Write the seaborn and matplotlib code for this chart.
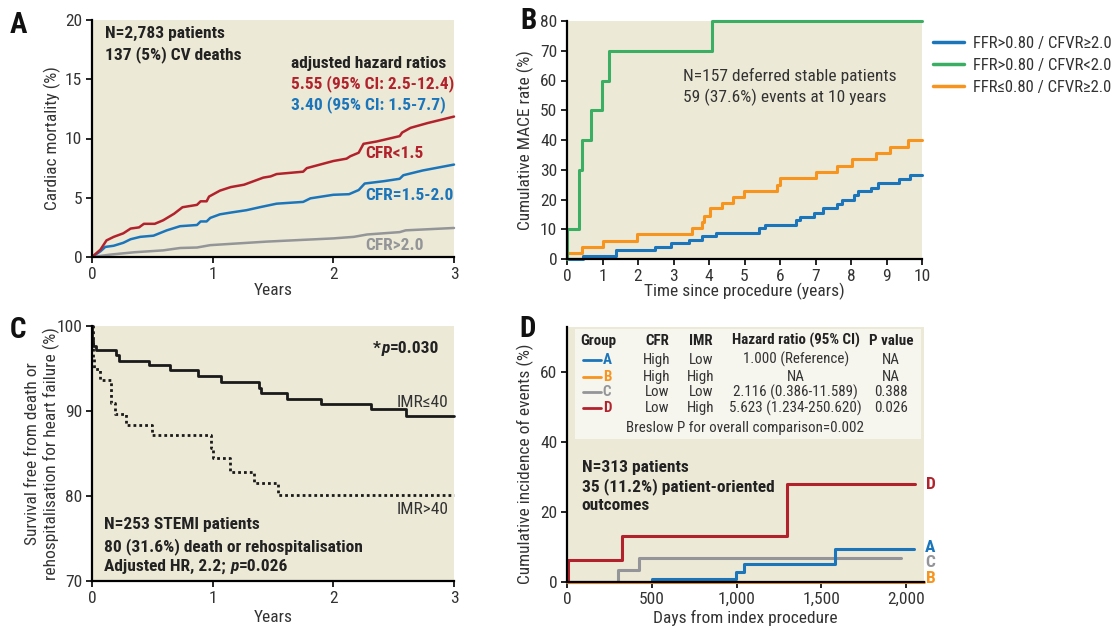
import numpy as np
import pandas as pd
import matplotlib
matplotlib.use("Agg")
import matplotlib.pyplot as plt
from matplotlib.lines import Line2D
from matplotlib.patches import Rectangle
from matplotlib import font_manager as fm
import seaborn as sns

# ---------------- data ----------------
# Panel A: cardiac mortality (%) vs years
A_LOW_X = [0, 0.07, 0.12, 0.18, 0.26, 0.32, 0.39, 0.43, 0.52, 0.59, 0.68, 0.75, 0.87, 0.90, 0.95, 0.97,
           1.06, 1.15, 1.26, 1.34, 1.42, 1.48, 1.53, 1.75, 1.78, 1.89, 2.0, 2.11, 2.14, 2.21, 2.25, 2.36,
           2.55, 2.57, 2.64, 2.78, 3.0]
A_LOW_Y = [0, 0.62, 1.4, 1.7, 2.0, 2.4, 2.5, 2.8, 2.8, 3.1, 3.65, 4.2, 4.4, 4.7, 4.7, 5.1,
           5.6, 5.9, 6.1, 6.4, 6.7, 6.8, 7.0, 7.2, 7.5, 7.8, 8.1, 8.3, 8.5, 8.8, 9.55, 9.75,
           10.2, 10.5, 10.9, 11.3, 11.85]
A_MID_X = [0, 0.07, 0.11, 0.18, 0.26, 0.32, 0.40, 0.51, 0.62, 0.73, 0.87, 0.90, 0.95, 0.98, 1.06,
           1.15, 1.28, 1.39, 1.53, 1.75, 1.81, 2.0, 2.13, 2.21, 2.26, 2.42, 2.55, 2.58, 2.74, 3.0]
A_MID_Y = [0, 0.48, 0.85, 0.95, 1.2, 1.5, 1.7, 1.8, 2.25, 2.6, 2.7, 3.0, 3.0, 3.3, 3.6,
           3.75, 3.95, 4.2, 4.5, 4.65, 4.95, 5.25, 5.3, 5.65, 6.2, 6.4, 6.6, 6.9, 7.3, 7.8]
A_HIGH_X = [0, 0.15, 0.35, 0.59, 0.73, 0.87, 0.98, 1.45, 2.0, 2.17, 2.28, 2.55, 2.6, 3.0]
A_HIGH_Y = [0, 0.2, 0.4, 0.56, 0.76, 0.8, 1.0, 1.3, 1.57, 1.7, 1.9, 2.1, 2.25, 2.45]
A_LABELS = ["CFR<1.5", "CFR=1.5-2.0", "CFR>2.0"]

# Panel B: cumulative MACE (%) vs years
B_BLUE_X = [0, 0.44, 1.38, 2.47, 2.94, 3.45, 3.80, 4.2, 5.4, 5.58, 6.45, 6.55, 6.96, 7.2, 7.6, 7.75,
            8.08, 8.2, 8.55, 8.75, 9.35, 9.65, 10]
B_BLUE_Y = [0, 1, 2.9, 4, 5.3, 6.4, 7.6, 8.9, 10.4, 11.5, 13.0, 14.2, 15.6, 17, 18.5, 19.8,
            21.5, 23, 23.9, 25.4, 26.9, 28.3, 28.3]
B_GREEN_X = [0, 0, 0.34, 0.42, 0.69, 0.98, 1.19, 4.09, 10]
B_GREEN_Y = [0, 10, 30, 40, 50, 60, 70, 80, 80]
B_ORANGE_X = [0, 0, 0.43, 1.02, 1.98, 3.52, 3.80, 3.87, 4.04, 4.38, 4.69, 4.99, 5.92, 6.0, 7.01, 7.6,
              8.03, 8.70, 9.1, 9.6, 10]
B_ORANGE_Y = [0, 2, 4, 6.2, 8.5, 10.5, 12.5, 14.5, 17, 18.8, 21, 22.8, 25, 27.1, 29.3, 31.4,
              33.5, 35.6, 37.6, 40, 40]
B_LABELS = ["FFR>0.80 / CFVR\u22652.0", "FFR>0.80 / CFVR<2.0", "FFR\u22640.80 / CFVR\u22652.0"]

# Panel C: survival free from death or HF rehospitalisation (%)
C_LOW_X = [0, 0.003, 0.01, 0.03, 0.2, 0.22, 0.47, 0.65, 0.88, 1.07, 1.385, 1.40, 1.62, 1.9, 2.31, 2.6, 3.0]
C_LOW_Y = [100, 98.3, 97.7, 97.2, 96.55, 95.85, 95.4, 94.8, 94.1, 93.4, 92.75, 92.1, 91.4, 90.85, 90.2, 89.4, 89.4]
C_HIGH_X = [0, 0.005, 0.02, 0.07, 0.16, 0.19, 0.28, 0.5, 0.99, 1.0, 1.14, 1.34, 1.54, 3.0]
C_HIGH_Y = [100, 96.2, 95.0, 93.7, 91.0, 89.7, 88.4, 87.2, 85.7, 84.5, 82.8, 81.5, 80.15, 80.15]
C_LABELS = ["IMR\u226440", "IMR>40"]

# Panel D: cumulative incidence (%) vs days
D_A_X = [0, 504, 999, 1045, 1583, 2046]
D_A_Y = [0, 0.9, 2.9, 5.2, 9.4, 9.4]
D_B_X = [0, 2106]
D_B_Y = [0, 0]
D_C_X = [0, 300, 424, 1973]
D_C_Y = [0, 3.5, 6.9, 6.9]
D_D_X = [0, 7, 323, 1299, 2053]
D_D_Y = [0, 6.3, 13.3, 28.0, 28.0]
D_GROUPS = ["A", "B", "C", "D"]
D_CFR = ["High", "High", "Low", "Low"]
D_IMR = ["Low", "High", "Low", "High"]
D_HR = ["1.000 (Reference)", "NA", "2.116 (0.386-11.589)", "5.623 (1.234-250.620)"]
D_P = ["NA", "NA", "0.388", "0.026"]
D_XTICKS = [0, 500, 1000, 1500, 2000]
D_XTICKLABELS = ["0", "500", "1,000", "1,500", "2,000"]

# ---------------- style ----------------
sns.set_theme(style="ticks")
names = {f.name for f in fm.fontManager.ttflist}
FONT = None
for cand in ["Liberation Sans Narrow", "Roboto Condensed", "Open Sans Condensed", "Noto Sans Condensed"]:
    if cand in names:
        FONT = cand
        break
if FONT is None:
    FONT = "DejaVu Sans"
    plt.rcParams["font.stretch"] = "condensed"
plt.rcParams["font.family"] = [FONT, "DejaVu Sans"]

BG = "#ECE9D6"
RED = "#B2222C"
BLUE = "#1B75BB"
GRAY = "#939598"
GREEN = "#3AAE62"
ORANGE = "#F7941D"
TXT = "#333333"
FS = 12.5

fig = plt.figure(figsize=(11.18, 6.28), dpi=100)
W, H = 1118.0, 628.0


def add_ax(l, t, r, b):
    return fig.add_axes([l / W, 1 - b / H, (r - l) / W, (b - t) / H])


axA = add_ax(92, 20, 454, 257)
axB = add_ax(567, 21, 922, 259)
axC = add_ax(92, 326, 454, 581)
axD = add_ax(567, 327, 924, 582)

for ax in (axA, axB, axC, axD):
    ax.set_facecolor(BG)
    for s in ("top", "right"):
        ax.spines[s].set_visible(False)
    for s in ("left", "bottom"):
        ax.spines[s].set_color("black")
        ax.spines[s].set_linewidth(1.6)
    ax.tick_params(direction="out", length=4.5, width=1.2, color="black",
                   labelcolor=TXT, labelsize=FS, pad=2.5)
    ax.grid(False)


def style_labels(ax, xl, yl, xpos, ypos, yy=0.5):
    ax.set_xlabel(xl, fontsize=FS, color=TXT)
    ax.set_ylabel(yl, fontsize=FS, color=TXT)
    ax.xaxis.set_label_coords(0.5, xpos)
    ax.yaxis.set_label_coords(ypos, yy)
    ax.xaxis.label.set_va("center")
    ax.yaxis.label.set_va("center")


def line(ax, x, y, color, lw=2.0, step=False, **kw):
    extra = {"drawstyle": "steps-post"} if step else {}
    sns.lineplot(x=x, y=y, ax=ax, color=color, lw=lw, estimator=None, sort=False,
                 legend=False, clip_on=False, **extra, **kw)


def chain(ax, x, y, parts, fontsize=FS, color="#222222"):
    t = ax.text(x, y, parts[0][0], fontsize=fontsize, color=color, ha="left", va="center", **parts[0][1])
    for s, st in parts[1:]:
        t = ax.annotate(s, xy=(1, 0), xycoords=t, xytext=(0.3, 0), textcoords="offset points",
                        fontsize=fontsize, color=color, ha="left", va="bottom", **st)
    return t

# ---------------- Panel A ----------------
line(axA, A_HIGH_X, A_HIGH_Y, GRAY, lw=1.8)
line(axA, A_MID_X, A_MID_Y, BLUE, lw=1.8)
line(axA, A_LOW_X, A_LOW_Y, RED, lw=1.8)
axA.set_xlim(0, 3)
axA.set_ylim(0, 20)
axA.set_xticks([0, 1, 2, 3])
axA.set_yticks([0, 5, 10, 15, 20])
style_labels(axA, "Years", "Cardiac mortality (%)", -0.143, -0.11)
bold = dict(fontweight="bold")
axA.text(0.108, 18.88, "N=2,783 patients", fontsize=FS, color="#222222", va="center", **bold)
axA.text(0.108, 17.1, "137 (5%) CV deaths", fontsize=FS, color="#222222", va="center", **bold)
axA.text(1.65, 16.35, "adjusted hazard ratios", fontsize=FS, color="#222222", va="center", **bold)
axA.text(1.65, 14.66, "5.55 (95% CI: 2.5-12.4)", fontsize=FS, color=RED, va="center", **bold)
axA.text(1.65, 12.9, "3.40 (95% CI: 1.5-7.7)", fontsize=FS, color=BLUE, va="center", **bold)
axA.text(2.268, 8.75, A_LABELS[0], fontsize=FS, color=RED, va="center", **bold)
axA.text(2.268, 5.15, A_LABELS[1], fontsize=FS, color=BLUE, va="center", **bold)
axA.text(2.268, 0.95, A_LABELS[2], fontsize=FS, color=GRAY, va="center", **bold)

# ---------------- Panel B ----------------
line(axB, B_BLUE_X, B_BLUE_Y, BLUE, lw=2.2, step=True)
line(axB, B_ORANGE_X, B_ORANGE_Y, ORANGE, lw=2.2, step=True)
line(axB, B_GREEN_X, B_GREEN_Y, GREEN, lw=2.2, step=True)
axB.set_xlim(0, 10)
axB.set_ylim(0, 80)
axB.set_xticks(range(0, 11))
axB.set_yticks(range(0, 81, 10))
style_labels(axB, "Time since procedure (years)", "Cumulative MACE rate (%)", -0.137, -0.118)
axB.text(3.28, 61.4, "N=157 deferred stable patients", fontsize=FS, color=TXT, va="center")
axB.text(3.28, 54.2, "59 (37.6%) events at 10 years", fontsize=FS, color=TXT, va="center")
handles = [Line2D([], [], color=c, lw=2.5) for c in (BLUE, GREEN, ORANGE)]
leg = axB.legend(handles, B_LABELS, loc="upper left", bbox_to_anchor=(1.031, 0.937), frameon=False,
                 handlelength=1.85, handletextpad=0.55, labelspacing=0.42, fontsize=12,
                 borderpad=0, borderaxespad=0)
for t in leg.get_texts():
    t.set_color(TXT)

# ---------------- Panel C ----------------
line(axC, C_LOW_X, C_LOW_Y, "#1a1a1a", lw=2.0, step=True)
line(axC, C_HIGH_X, C_HIGH_Y, "#1a1a1a", lw=2.0, step=True, linestyle=(0, (1, 1.1)))
axC.set_xlim(0, 3)
axC.set_ylim(70, 100)
axC.set_xticks([0, 1, 2, 3])
axC.set_yticks([70, 80, 90, 100])
style_labels(axC, "Years", "Survival free from death or\nrehospitalisation for heart failure (%)",
             -0.145, -0.138)
axC.text(2.957, 91.0, C_LABELS[0], fontsize=FS, color=TXT, ha="right", va="center")
axC.text(2.957, 78.44, C_LABELS[1], fontsize=FS, color=TXT, ha="right", va="center")
chain(axC, 2.33, 97.4, [("*", bold), ("p", dict(fontweight="bold", fontstyle="italic")),
                        ("=0.030", bold)])
axC.text(0.1, 76.6, "N=253 STEMI patients", fontsize=FS, color="#222222", va="center", **bold)
axC.text(0.1, 74.1, "80 (31.6%) death or rehospitalisation", fontsize=FS, color="#222222",
         va="center", **bold)
chain(axC, 0.1, 71.7, [("Adjusted HR, 2.2; ", bold),
                       ("p", dict(fontweight="bold", fontstyle="italic")), ("=0.026", bold)])

# ---------------- Panel D ----------------
D_COLORS = [BLUE, ORANGE, GRAY, RED]
line(axD, D_D_X, D_D_Y, RED, lw=2.2, step=True)
line(axD, D_C_X, D_C_Y, GRAY, lw=2.2, step=True)
line(axD, D_A_X, D_A_Y, BLUE, lw=2.2, step=True)
line(axD, D_B_X, D_B_Y, ORANGE, lw=2.2, step=True)
axD.set_xlim(0, 2106)
axD.set_ylim(0, 73)
axD.set_xticks(D_XTICKS)
axD.set_xticklabels(D_XTICKLABELS)
axD.set_yticks([0, 20, 40, 60])
style_labels(axD, "Days from index procedure", "Cumulative incidence of events (%)", -0.141, -0.118,
             yy=0.465)
end_y = {"D": 27.9, "A": 10.0, "C": 5.7, "B": 0.9}
for g, c in zip(D_GROUPS, D_COLORS):
    axD.text(2144, end_y[g], g, fontsize=FS, color=c, ha="center", va="center", clip_on=False, **bold)

axD.add_patch(Rectangle((47, 40.8), 2041, 31.7, facecolor="#F6F5EE", edgecolor="none", zorder=1))
TFS = 10.8
hy = 69.0
row_y = [63.6, 58.8, 54.3, 49.8]
axD.text(80, hy, "Group", fontsize=TFS, color="#222222", ha="left", va="center", **bold)
for xx, lab in zip([530, 790, 1350, 1910], ["CFR", "IMR", "Hazard ratio (95% CI)", "P value"]):
    axD.text(xx, hy, lab, fontsize=TFS, color="#222222", ha="center", va="center", **bold)
for i, g in enumerate(D_GROUPS):
    yy = row_y[i]
    axD.plot([94, 200], [yy, yy], color=D_COLORS[i], lw=2.0, zorder=3)
    axD.text(236, yy, g, fontsize=TFS, color=D_COLORS[i], ha="center", va="center", **bold)
    axD.text(530, yy, D_CFR[i], fontsize=TFS, color=TXT, ha="center", va="center")
    axD.text(790, yy, D_IMR[i], fontsize=TFS, color=TXT, ha="center", va="center")
    axD.text(1350, yy, D_HR[i], fontsize=TFS, color=TXT, ha="center", va="center")
    axD.text(1910, yy, D_P[i], fontsize=TFS, color=TXT, ha="center", va="center")
axD.text(1050, 44.2, "Breslow P for overall comparison=0.002", fontsize=TFS, color=TXT,
         ha="center", va="center")
axD.text(87, 32.9, "N=313 patients", fontsize=FS, color="#222222", va="center", **bold)
axD.text(87, 27.4, "35 (11.2%) patient-oriented", fontsize=FS, color="#222222", va="center", **bold)
axD.text(87, 21.8, "outcomes", fontsize=FS, color="#222222", va="center", **bold)

# ---------------- panel letters ----------------
for lab, (px, py) in zip("ABCD", [(18.5, 25), (528, 21), (18, 330), (528, 329)]):
    fig.text(px / W, 1 - py / H, lab, fontsize=21, fontweight="bold", color="#111111",
             ha="center", va="center")

fig.savefig("out.png", dpi=100, facecolor="white")
